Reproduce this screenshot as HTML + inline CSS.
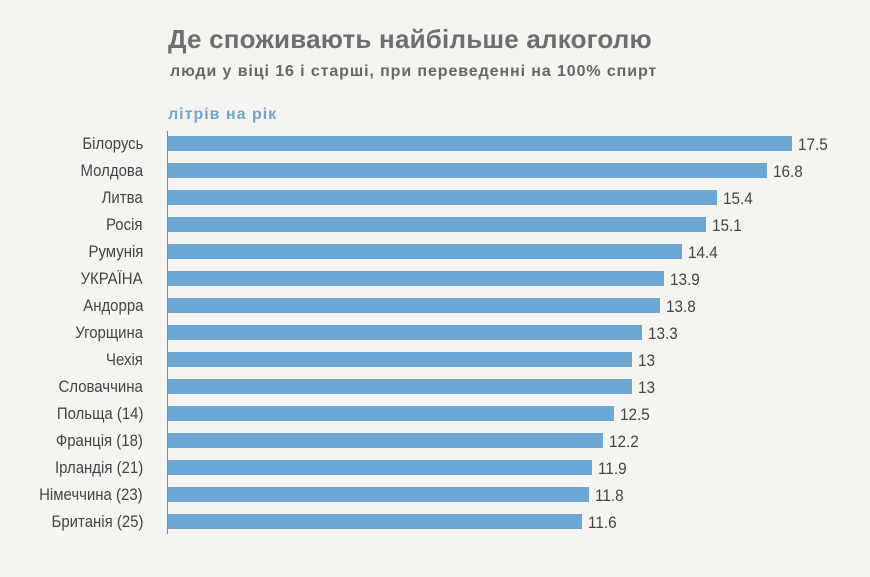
<!DOCTYPE html>
<html><head><meta charset="utf-8"><style>
body{margin:0;width:870px;height:577px;background:#f5f4f1;font-family:"Liberation Sans",sans-serif;overflow:hidden;position:relative}
.t{position:absolute;white-space:nowrap}
.bar{position:absolute;left:168px;height:15px;background:#6ea6d3}
.lab{position:absolute;right:727px;font-size:17px;color:#444;transform:scaleX(0.88);transform-origin:right center;white-space:nowrap;line-height:15px}
.val{position:absolute;font-size:17px;color:#444;transform:scaleX(0.9);transform-origin:left center;line-height:15px}
</style></head><body>
<div class="t" style="left:168px;top:24px;font-size:26px;font-weight:bold;color:#6e6e6e;letter-spacing:0.2px">Де споживають найбільше алкоголю</div>
<div class="t" style="left:170px;top:63px;font-size:16px;font-weight:bold;color:#666;letter-spacing:0.9px">люди у віці 16 і старші, при переведенні на 100% спирт</div>
<div class="t" style="left:168px;top:106px;font-size:16px;font-weight:bold;color:#6ea6d3;letter-spacing:1px">літрів на рік</div>
<div style="position:absolute;left:167px;top:131px;width:1px;height:403px;background:#888"></div>
<div id="c"></div>
<script>
var d=[["Білорусь",17.5],["Молдова",16.8],["Литва",15.4],["Росія",15.1],["Румунія",14.4],["УКРАЇНА",13.9],["Андорра",13.8],["Угорщина",13.3],["Чехія",13],["Словаччина",13],["Польща (14)",12.5],["Франція (18)",12.2],["Ірландія (21)",11.9],["Німеччина (23)",11.8],["Британія (25)",11.6]];
var h="";d.forEach(function(r,i){var y=136+i*27,w=r[1]*35.66;
h+='<div class="bar" style="top:'+y+'px;width:'+w+'px"></div>';
h+='<div class="lab" style="top:'+y+'px">'+r[0]+'</div>';
h+='<div class="val" style="top:'+(y+1)+'px;left:'+(168+w+6)+'px">'+r[1]+'</div>';});
document.getElementById("c").innerHTML=h;
</script>
</body></html>
